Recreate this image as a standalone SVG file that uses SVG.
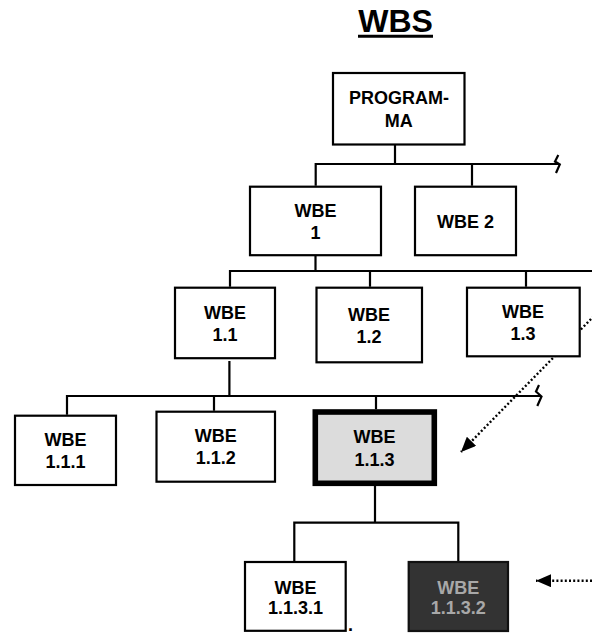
<svg xmlns="http://www.w3.org/2000/svg" width="592" height="634" viewBox="0 0 592 634">
  <defs>
    <style>
      .box { fill: #ffffff; stroke: #000000; stroke-width: 2.2; }
      .lbl { font-family: "Liberation Sans", Arial, sans-serif; font-weight: bold; font-size: 18px; fill: #000000; text-anchor: middle; }
      .wire { fill: none; stroke: #000000; stroke-width: 2.2; }
      .dots { fill: none; stroke: #000000; stroke-width: 2.4; stroke-dasharray: 2 2.2; }
    </style>
    <marker id="head" viewBox="0 0 15 13" refX="15" refY="6.5" markerWidth="15" markerHeight="13" markerUnits="userSpaceOnUse" orient="auto">
      <path d="M0,0 L15,6.5 L0,13 Z" fill="#000000"/>
    </marker>
  </defs>

  <rect width="592" height="634" fill="#ffffff"/>

  <!-- title -->
  <g id="title">
    <text x="395.5" y="32" font-family="Liberation Sans, Arial, sans-serif" font-weight="bold" font-size="32" text-anchor="middle" fill="#000000">WBS</text>
    <line x1="358" y1="36.3" x2="433" y2="36.3" stroke="#000000" stroke-width="3"/>
  </g>

  <!-- connectors -->
  <g id="connectors">
    <!-- level 0 -> level 1 -->
    <path class="wire" d="M395,145 V164 M315.7,185.7 V164 H559 M472,164 V185.7"/>
    <path class="wire" d="M558.3,155 L555,161.5 L559.8,164.5 L556,173"/>
    <!-- level 1 -> level 2 -->
    <path class="wire" d="M315.5,255.7 V271 M230,286.7 V271 H592 M370,271 V286.7 M526,271 V286.7"/>
    <!-- level 2 -> level 3 -->
    <path class="wire" d="M229.4,361 V396 M67,414.7 V396 H541 M214,396 V410.7 M376,396 V409.3"/>
    <path class="wire" d="M539,385 L536,391.5 L541.5,396.5 L537.3,406"/>
    <!-- level 3 -> level 4 -->
    <path class="wire" d="M375,486 V522.7 M294.3,561 V522.7 H458.3 V561"/>
    <!-- dotted pointers -->
    <path class="dots" d="M594,316 L461,452" marker-end="url(#head)"/>
    <path class="dots" d="M592,580.7 L536,580.7" marker-end="url(#head)"/>
  </g>

  <!-- nodes -->
  <g id="n-programma">
    <rect class="box" x="333" y="73" width="131.5" height="71.5"/>
    <text class="lbl" x="399" y="104.3">PROGRAM-</text>
    <text class="lbl" x="398.8" y="126.7">MA</text>
  </g>
  <g id="n-wbe1">
    <rect class="box" x="250" y="186.7" width="131" height="68.5"/>
    <text class="lbl" x="315.5" y="216.7">WBE</text>
    <text class="lbl" x="315.5" y="239">1</text>
  </g>
  <g id="n-wbe2">
    <rect class="box" x="415" y="186.7" width="101" height="68.5"/>
    <text class="lbl" x="465.5" y="227.7">WBE 2</text>
  </g>
  <g id="n-wbe11">
    <rect class="box" x="175" y="287.7" width="100" height="70.5"/>
    <text class="lbl" x="225" y="319">WBE</text>
    <text class="lbl" x="225" y="340.7">1.1</text>
  </g>
  <g id="n-wbe12">
    <rect class="box" x="316.5" y="287.7" width="105.5" height="74.6"/>
    <text class="lbl" x="369" y="321">WBE</text>
    <text class="lbl" x="369" y="342.7">1.2</text>
  </g>
  <g id="n-wbe13">
    <rect class="box" x="467" y="287.7" width="112.7" height="68.6"/>
    <text class="lbl" x="523" y="318.3">WBE</text>
    <text class="lbl" x="523" y="340">1.3</text>
  </g>
  <g id="n-wbe111">
    <rect class="box" x="15" y="415.7" width="101" height="69.3"/>
    <text class="lbl" x="65.5" y="445.7">WBE</text>
    <text class="lbl" x="65.5" y="468.3">1.1.1</text>
  </g>
  <g id="n-wbe112">
    <rect class="box" x="156.5" y="411.7" width="118.5" height="70"/>
    <text class="lbl" x="215.7" y="441.7">WBE</text>
    <text class="lbl" x="215.7" y="464.3">1.1.2</text>
  </g>
  <g id="n-wbe113">
    <rect x="315.3" y="412" width="119" height="71.3" fill="#dcdcdc" stroke="#000000" stroke-width="5.6"/>
    <text class="lbl" x="374.6" y="443.3">WBE</text>
    <text class="lbl" x="374.6" y="466">1.1.3</text>
  </g>
  <g id="n-wbe1131">
    <rect class="box" x="245" y="562" width="100.7" height="68.8"/>
    <text class="lbl" x="295.5" y="594.3">WBE</text>
    <text class="lbl" x="295.5" y="614.3">1.1.3.1</text>
    <text class="lbl" x="350.5" y="631" font-size="12">.</text>
  </g>
  <g id="n-wbe1132">
    <rect x="408.7" y="562" width="99.3" height="69" fill="#333333" stroke="#111111" stroke-width="2.2"/>
    <text class="lbl" x="458.3" y="594.3" style="fill:#a8a8a8">WBE</text>
    <text class="lbl" x="458.3" y="614.3" style="fill:#a8a8a8">1.1.3.2</text>
  </g>
</svg>
